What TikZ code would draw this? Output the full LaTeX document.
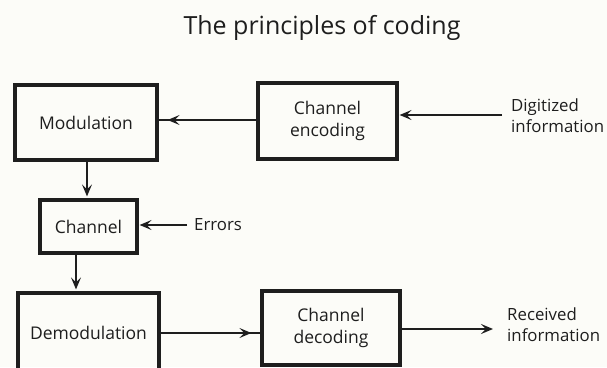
\documentclass[tikz,border=0pt]{standalone}
\usepackage{fontspec}
\setmainfont{Open Sans}
\usetikzlibrary{arrows.meta,decorations.markings}
\definecolor{ink}{HTML}{1E1E1E}
\definecolor{paper}{HTML}{FCFCF8}
\tikzset{
  blk/.style={draw=ink, line width=3.2pt, rectangle, align=center, inner sep=0pt,
    font=\fontsize{17.5}{22}\selectfont, text=ink},
  lbl/.style={align=left, inner sep=0pt, font=\fontsize{16.8}{21}\selectfont, text=ink},
  conn/.style={draw=ink, line width=1.4pt},
  thick conn/.style={draw=ink, line width=2.8pt},
  tip/.style={-{Stealth[length=12pt,width=10pt,inset=5pt]}},
  midhead/.style={postaction={decorate}, decoration={markings,
    mark=at position #1 with {\arrow{Stealth[length=12pt,width=10pt,inset=5pt]}}}}
}
\begin{document}
\begin{tikzpicture}[x=1pt,y=-1pt]
\fill[paper] (0,0) rectangle (607,367);
\useasboundingbox (0,0) rectangle (607,367);
\clip (0,0) rectangle (607,367);
\node[text=ink, font=\fontsize{25}{30}\selectfont] (title) at (322,28) {The principles of coding};

\node[blk, minimum width=142pt, minimum height=75pt] (mod) at (86,122.5) {Modulation};
\node[blk, minimum width=139pt, minimum height=76pt] (ce) at (327.5,121) {Channel\\encoding};
\node[blk, minimum width=97pt, minimum height=53pt] (ch) at (88.5,226.5) {Channel};
\node[blk, minimum width=141pt, minimum height=80pt] (dem) at (88.5,333) {Demodulation};
\node[blk, minimum width=138pt, minimum height=74pt] (dec) at (331,328) {Channel\\decoding};

\node[lbl, anchor=west] (dig) at (511,116) {Digitized\\information};
\node[lbl, anchor=west] (err) at (194,225) {Errors};
\node[lbl, anchor=west] (rec) at (507,325) {Received\\information};

\coordinate (digs) at (502,115);
\coordinate (errs) at (187,225);
\coordinate (rece) at (493,329);

\draw[thick conn, tip, shorten >=1pt] (digs) -- (digs -| ce.east);
\draw[conn, midhead=-9pt] (ce.west |- 0,120) -- (mod.east |- 0,120);
\draw[conn, tip, shorten >=2pt] (mod.south -| 87,0) -- (ch.north -| 87,0);
\draw[conn, tip, shorten >=1pt] (errs) -- (errs -| ch.east);
\draw[conn, tip, shorten >=2pt] (ch.south -| 76,0) -- (dem.north -| 76,0);
\draw[conn, midhead=-9pt] (dem.east) -- (dem.east -| dec.west);
\draw[thick conn, tip] (dec.east |- rece) -- (rece);
\end{tikzpicture}
\end{document}
